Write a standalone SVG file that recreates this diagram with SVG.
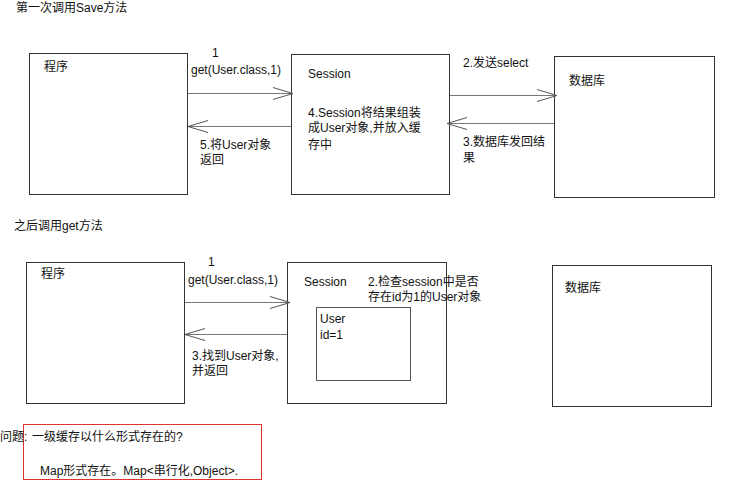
<svg xmlns="http://www.w3.org/2000/svg" width="754" height="481" viewBox="0 0 754 481">
<style>
text{font-family:"Liberation Sans","Noto Sans CJK SC",sans-serif;font-size:12px;fill:#111}
.box{fill:#fff;stroke:#333;stroke-width:1}
.ibox{fill:#fff;stroke:#555;stroke-width:1}
.conn{fill:none;stroke:#777;stroke-width:1}
.red{fill:none;stroke:#d33;stroke-width:1}
</style>
<defs>
<marker id="v" viewBox="0 0 20 14" refX="20" refY="7" markerWidth="20" markerHeight="14" markerUnits="userSpaceOnUse" orient="auto">
<path d="M0,1 L20,7 L0,13" fill="none" stroke="#555" stroke-width="1"/>
</marker>
</defs>
<rect width="754" height="481" fill="#fff"/>
<text x="16" y="12">第一次调用Save方法</text>
<text x="14" y="230">之后调用get方法</text>

<g id="prog1"><rect class="box" x="29.5" y="53.5" width="158" height="141"/><text x="44" y="71">程序</text></g>
<g id="session1"><rect class="box" x="291.5" y="54.5" width="158" height="140"/><text x="308" y="78">Session</text>
<text x="308" y="117">4.Session将结果组装</text><text x="308" y="132">成User对象,并放入缓</text><text x="308" y="149">存中</text></g>
<g id="db1"><rect class="box" x="554.5" y="56.5" width="160" height="141"/><text x="569" y="85">数据库</text></g>

<g id="prog2"><rect class="box" x="26.5" y="262.5" width="158" height="141"/><text x="41" y="278">程序</text></g>
<g id="session2"><rect class="box" x="287.5" y="262.5" width="159" height="141"/><text x="304" y="286">Session</text>
<text x="368" y="286">2.检查session中是否</text><text x="368" y="301">存在id为1的User对象</text></g>
<g id="user"><rect class="ibox" x="316.5" y="307.5" width="94" height="73"/><text x="320" y="323">User</text><text x="320" y="339">id=1</text></g>
<g id="db2"><rect class="box" x="552.5" y="265.5" width="159" height="141"/><text x="565" y="292">数据库</text></g>

<g id="connectors">
<line class="conn" x1="188" y1="93.5" x2="293" y2="93.5" marker-end="url(#v)"/>
<line class="conn" x1="291" y1="126.5" x2="188" y2="126.5" marker-end="url(#v)"/>
<line class="conn" x1="450" y1="95.5" x2="557" y2="95.5" marker-end="url(#v)"/>
<line class="conn" x1="554" y1="123.5" x2="447" y2="123.5" marker-end="url(#v)"/>
<line class="conn" x1="185" y1="302.5" x2="290" y2="302.5" marker-end="url(#v)"/>
<line class="conn" x1="287" y1="334.5" x2="185" y2="334.5" marker-end="url(#v)"/>
<text x="212" y="57">1</text>
<text x="191" y="74">get(User.class,1)</text>
<text x="200" y="149">5.将User对象</text><text x="200" y="164">返回</text>
<text x="463" y="67">2.发送select</text>
<text x="463" y="146">3.数据库发回结</text><text x="463" y="162">果</text>
<text x="208" y="266">1</text>
<text x="188" y="284">get(User.class,1)</text>
<text x="192" y="360">3.找到User对象,</text><text x="192" y="375">并返回</text>
</g>

<g id="note">
<rect class="red" x="23.5" y="424.5" width="238" height="55"/>
<text x="0" y="441">问题:</text>
<text x="32" y="441">一级缓存以什么形式存在的?</text>
<text x="40" y="475">Map形式存在。Map&lt;串行化,Object&gt;.</text>
</g>
</svg>
